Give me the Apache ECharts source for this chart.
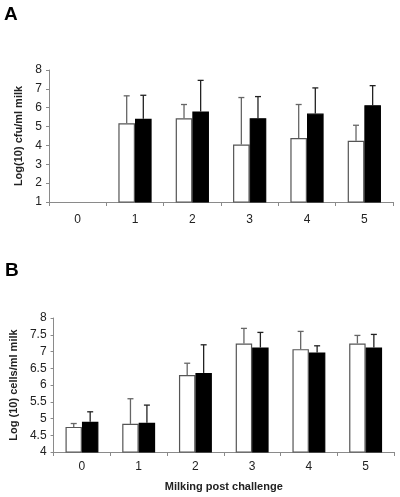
<!DOCTYPE html>
<html>
<head>
<meta charset="utf-8">
<script src="https://cdn.jsdelivr.net/npm/echarts@6/dist/echarts.min.js"></script>
<style>
html,body{margin:0;padding:0;background:#fff;}
#c{width:400px;height:497px;}
</style>
</head>
<body>
<div id="c"></div>
<script>
var categories = ['0', '1', '2', '3', '4', '5'];
// Panel A: Log(10) cfu/ml milk
var aWhite = [null, 5.18, 5.44, 4.05, 4.39, 4.25];
var aWhiteErrTop = [null, 6.63, 6.17, 6.54, 6.17, 5.07];
var aBlack = [null, 5.41, 5.80, 5.44, 5.69, 6.13];
var aBlackErrTop = [null, 6.66, 7.45, 6.59, 7.05, 7.17];
// Panel B: Log (10) cells/ml milk
var bWhite = [4.75, 4.84, 6.30, 7.24, 7.07, 7.24];
var bWhiteErrTop = [4.85, 5.59, 6.65, 7.69, 7.60, 7.48];
var bBlack = [4.90, 4.87, 6.36, 7.12, 6.97, 7.12];
var bBlackErrTop = [5.20, 5.40, 7.20, 7.57, 7.17, 7.51];

var FONT = '"Liberation Sans", Arial, sans-serif';
var GAP = 0.42;

function errData(vals, tops) {
  var out = [];
  for (var i = 0; i < vals.length; i++) {
    if (vals[i] != null && tops[i] != null) out.push([i, vals[i], tops[i]]);
  }
  return out;
}

function errSeries(vals, tops, side, color, idx) {
  return {
    type: 'custom',
    xAxisIndex: idx, yAxisIndex: idx,
    z: 1,
    silent: true,
    data: errData(vals, tops),
    encode: { x: 0, y: [1, 2] },
    renderItem: function (params, api) {
      var i = api.value(0);
      var lo = api.coord([i, api.value(1)]);
      var hi = api.coord([i, api.value(2)]);
      var band = api.size([1, 0])[0];
      var bw = band * (1 - GAP) / 2;
      var x = lo[0] + side * bw / 2;
      var cap = 3;
      return {
        type: 'group',
        children: [
          { type: 'line', shape: { x1: x, y1: lo[1], x2: x, y2: hi[1] }, style: { stroke: color, lineWidth: 1.3 } },
          { type: 'line', shape: { x1: x - cap, y1: hi[1], x2: x + cap, y2: hi[1] }, style: { stroke: color, lineWidth: 1.3 } }
        ]
      };
    }
  };
}

function xAxisCfg(idx, margin, name) {
  var c = {
    type: 'category', gridIndex: idx, data: categories,
    axisLine: { lineStyle: { color: '#8a8a8a', width: 1 } },
    axisTick: { show: true, length: 4, lineStyle: { color: '#8a8a8a' } },
    axisLabel: { color: '#222', fontSize: 12, fontFamily: FONT, margin: margin },
    splitLine: { show: false }
  };
  if (name) {
    c.name = name;
    c.nameLocation = 'middle';
    c.nameGap = 29;
    c.nameTextStyle = { color: '#222', fontSize: 11, fontWeight: 'bold', fontFamily: FONT };
  }
  return c;
}

function yAxisCfg(idx, min, max, interval, name, gap) {
  return {
    type: 'value', gridIndex: idx, min: min, max: max, interval: interval,
    name: name, nameLocation: 'middle', nameGap: gap, nameRotate: 90,
    nameTextStyle: { color: '#222', fontSize: 11, fontWeight: 'bold', fontFamily: FONT },
    axisLine: { show: true, lineStyle: { color: '#8a8a8a', width: 1 } },
    axisTick: { show: true, length: 3, lineStyle: { color: '#8a8a8a' } },
    axisLabel: { color: '#222', fontSize: 12, fontFamily: FONT, margin: 7 },
    splitLine: { show: false }
  };
}

function barSeries(vals, idx, fill, border) {
  return {
    type: 'bar', xAxisIndex: idx, yAxisIndex: idx,
    data: vals,
    barGap: '0%', barCategoryGap: (GAP * 100) + '%',
    itemStyle: { color: fill, borderColor: border, borderWidth: 1.2 },
    z: 2,
    silent: true
  };
}

var chart = echarts.init(document.getElementById('c'), null, { renderer: 'canvas' });
chart.setOption({
  backgroundColor: '#fff',
  animation: false,
  graphic: [
    { type: 'text', left: 4, top: 5, style: { text: 'A', font: 'bold 19px ' + FONT, fill: '#000' } },
    { type: 'text', left: 5, top: 261, style: { text: 'B', font: 'bold 19px ' + FONT, fill: '#000' } }
  ],
  grid: [
    { left: 49, top: 70, right: 7, height: 132 },
    { left: 45, top: 318, right: 6, height: 134 }
  ],
  xAxis: [xAxisCfg(0, 12), xAxisCfg(1, 9, 'Milking post challenge')],
  yAxis: [
    yAxisCfg(0, 1, 8, 1, 'Log(10) cfu/ml milk', 17),
    yAxisCfg(1, 4, 8, 0.5, 'Log (10) cells/ml milk', 26)
  ],
  series: [
    barSeries(aWhite, 0, '#fff', '#555'),
    barSeries(aBlack, 0, '#000', '#000'),
    errSeries(aWhite, aWhiteErrTop, -1, '#666', 0),
    errSeries(aBlack, aBlackErrTop, 1, '#222', 0),
    barSeries(bWhite, 1, '#fff', '#555'),
    barSeries(bBlack, 1, '#000', '#000'),
    errSeries(bWhite, bWhiteErrTop, -1, '#666', 1),
    errSeries(bBlack, bBlackErrTop, 1, '#222', 1)
  ]
});
</script>
</body>
</html>
